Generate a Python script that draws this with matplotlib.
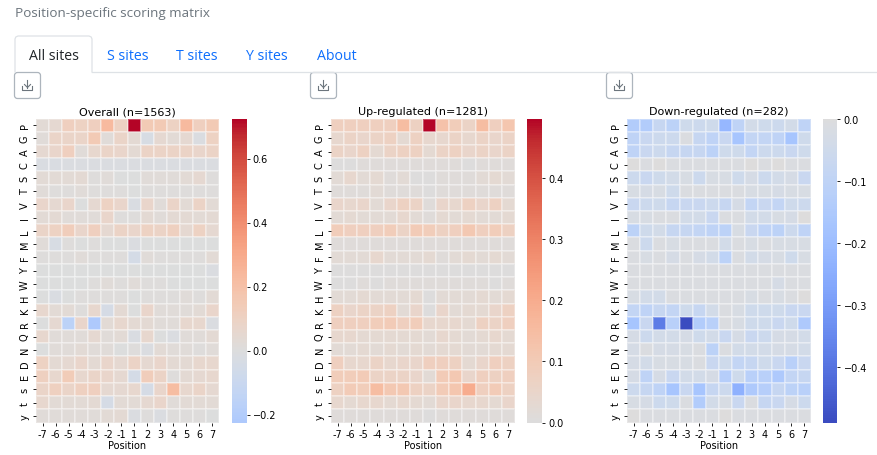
import matplotlib
matplotlib.use('Agg')
import matplotlib.pyplot as plt
import numpy as np
import seaborn as sns
from matplotlib.patches import FancyBboxPatch

residues = ['P', 'G', 'A', 'C', 'S', 'T', 'V', 'I', 'L', 'M', 'F', 'Y', 'W',
            'H', 'K', 'R', 'Q', 'N', 'D', 'E', 's', 't', 'y']
positions = ['-7', '-6', '-5', '-4', '-3', '-2', '-1', '1', '2', '3', '4', '5', '6', '7']

titles = ['Overall (n=1563)', 'Up-regulated (n=1281)', 'Down-regulated (n=282)']
tabs = ['All sites', 'S sites', 'T sites', 'Y sites', 'About']

overall = [
    [0.03, 0.05, 0.12, 0.10, 0.12, 0.23, 0.10, 0.725, 0.15, 0.15, 0.10, 0.23, 0.12, 0.15],
    [0.02, 0.08, 0.08, 0.08, 0.15, 0.02, 0.08, 0.04, -0.03, 0.05, 0.03, 0.05, -0.01, 0.10],
    [0.05, 0.07, 0.12, 0.02, 0.06, 0.08, 0.07, 0.04, 0.09, 0.09, 0.09, 0.09, 0.07, 0.09],
    [-0.02, -0.02, -0.01, -0.01, -0.01, -0.01, -0.01, -0.01, -0.01, -0.01, -0.01, -0.01, -0.01, -0.01],
    [0.03, 0.03, 0.03, 0.04, 0.01, 0.02, 0.00, 0.00, 0.02, 0.02, 0.02, 0.03, 0.05, 0.01],
    [0.02, 0.01, 0.01, 0.02, 0.01, 0.01, 0.01, 0.00, 0.01, 0.01, 0.01, 0.01, 0.01, 0.01],
    [0.07, 0.05, 0.07, 0.00, 0.05, 0.10, 0.07, -0.02, 0.07, 0.02, 0.08, 0.03, 0.09, 0.03],
    [0.03, 0.04, 0.02, 0.02, 0.02, 0.07, 0.01, 0.01, 0.04, 0.02, 0.04, 0.04, 0.03, 0.04],
    [0.08, 0.10, 0.13, 0.07, 0.12, 0.05, 0.09, 0.07, 0.10, 0.09, 0.11, 0.05, 0.10, 0.05],
    [0.02, -0.03, 0.01, 0.00, 0.01, 0.00, 0.00, -0.01, 0.00, 0.00, 0.00, 0.00, 0.00, 0.00],
    [0.01, 0.01, 0.01, 0.02, 0.01, 0.01, 0.01, -0.05, 0.02, 0.01, 0.01, 0.01, 0.01, 0.03],
    [0.00, 0.00, 0.00, 0.00, 0.00, 0.00, 0.00, 0.00, 0.00, 0.00, 0.00, 0.00, 0.00, -0.01],
    [0.00, 0.00, 0.00, 0.00, 0.01, 0.02, 0.01, 0.02, 0.01, 0.01, 0.00, 0.00, 0.00, 0.00],
    [0.00, -0.02, 0.00, 0.01, 0.01, 0.01, 0.01, 0.00, 0.01, 0.01, 0.01, 0.02, 0.01, 0.03],
    [0.06, 0.03, 0.03, 0.01, 0.06, -0.04, 0.04, 0.00, 0.07, 0.02, 0.02, 0.02, 0.03, 0.07],
    [0.00, 0.05, -0.16, 0.07, -0.225, 0.03, 0.06, 0.04, 0.04, 0.02, 0.02, 0.06, 0.06, -0.01],
    [0.06, 0.02, 0.02, 0.02, 0.05, 0.02, 0.03, -0.02, 0.06, 0.00, -0.01, 0.02, 0.02, 0.04],
    [0.00, 0.02, 0.02, 0.03, 0.02, 0.02, 0.00, 0.01, -0.01, 0.03, 0.02, 0.02, 0.01, 0.02],
    [0.10, 0.04, 0.05, 0.07, 0.04, 0.07, 0.05, 0.09, 0.05, 0.07, 0.04, 0.04, 0.06, 0.06],
    [0.11, 0.06, 0.14, 0.06, 0.08, 0.07, 0.05, -0.05, 0.13, 0.09, 0.01, 0.04, 0.05, 0.06],
    [0.08, 0.11, 0.08, 0.11, 0.12, 0.05, 0.05, 0.06, -0.04, 0.07, 0.22, 0.06, 0.08, 0.05],
    [0.06, 0.03, 0.03, 0.03, 0.04, -0.04, 0.03, 0.03, 0.05, 0.07, 0.02, 0.03, 0.03, 0.03],
    [0.02, 0.02, 0.02, 0.02, 0.02, 0.03, 0.04, -0.01, 0.01, -0.01, 0.01, 0.01, 0.01, 0.00],
]

up = [
    [0.08, 0.08, 0.08, 0.08, 0.08, 0.15, 0.07, 0.497, 0.13, 0.09, 0.06, 0.15, 0.08, 0.12],
    [0.04, 0.06, 0.05, 0.06, 0.07, 0.03, 0.07, 0.04, 0.04, 0.06, 0.04, 0.06, 0.05, 0.06],
    [0.06, 0.05, 0.07, 0.03, 0.06, 0.07, 0.07, 0.03, 0.06, 0.07, 0.05, 0.06, 0.05, 0.06],
    [0.00, 0.00, 0.01, 0.01, 0.01, 0.01, 0.01, 0.01, 0.01, 0.01, 0.00, 0.01, 0.01, 0.01],
    [0.02, 0.04, 0.02, 0.03, 0.01, 0.02, 0.00, 0.00, 0.01, 0.01, 0.01, 0.02, 0.03, 0.02],
    [0.01, 0.01, 0.01, 0.02, 0.01, 0.01, 0.01, 0.00, 0.01, 0.01, 0.01, 0.01, 0.01, 0.01],
    [0.05, 0.04, 0.05, 0.02, 0.05, 0.07, 0.06, 0.01, 0.05, 0.04, 0.07, 0.05, 0.07, 0.03],
    [0.02, 0.03, 0.02, 0.02, 0.02, 0.04, 0.02, 0.01, 0.03, 0.02, 0.03, 0.02, 0.02, 0.03],
    [0.09, 0.08, 0.08, 0.08, 0.09, 0.06, 0.10, 0.09, 0.07, 0.08, 0.11, 0.08, 0.09, 0.07],
    [0.01, 0.01, 0.01, 0.01, 0.01, 0.01, 0.01, 0.01, 0.01, 0.01, 0.01, 0.01, 0.01, 0.01],
    [0.02, 0.02, 0.02, 0.04, 0.02, 0.02, 0.02, 0.03, 0.01, 0.02, 0.03, 0.02, 0.03, 0.02],
    [0.00, 0.00, 0.00, 0.00, 0.00, 0.00, 0.00, 0.00, 0.00, 0.00, 0.00, 0.00, 0.00, 0.00],
    [0.00, 0.00, 0.01, 0.00, 0.01, 0.01, 0.01, 0.01, 0.01, 0.01, 0.01, 0.01, 0.00, 0.01],
    [0.02, 0.02, 0.03, 0.02, 0.02, 0.02, 0.03, 0.00, 0.02, 0.02, 0.02, 0.03, 0.02, 0.03],
    [0.07, 0.05, 0.06, 0.06, 0.07, 0.02, 0.05, 0.00, 0.05, 0.02, 0.03, 0.03, 0.05, 0.07],
    [0.08, 0.08, 0.08, 0.09, 0.10, 0.08, 0.09, 0.04, 0.04, 0.04, 0.03, 0.07, 0.06, 0.08],
    [0.04, 0.04, 0.03, 0.03, 0.03, 0.03, 0.03, 0.02, 0.04, 0.03, 0.02, 0.03, 0.04, 0.03],
    [0.02, 0.02, 0.03, 0.02, 0.03, 0.02, 0.03, 0.02, 0.03, 0.03, 0.02, 0.02, 0.03, 0.03],
    [0.08, 0.04, 0.04, 0.06, 0.04, 0.05, 0.05, 0.08, 0.08, 0.07, 0.03, 0.05, 0.08, 0.07],
    [0.09, 0.09, 0.10, 0.06, 0.06, 0.06, 0.05, 0.02, 0.10, 0.11, 0.05, 0.08, 0.07, 0.08],
    [0.07, 0.10, 0.09, 0.15, 0.11, 0.11, 0.07, 0.06, 0.10, 0.12, 0.20, 0.08, 0.10, 0.07],
    [0.04, 0.03, 0.04, 0.04, 0.03, 0.04, 0.03, 0.02, 0.05, 0.05, 0.04, 0.04, 0.03, 0.05],
    [0.01, 0.01, 0.01, 0.01, 0.01, 0.01, 0.01, 0.00, 0.01, 0.01, 0.01, 0.01, 0.01, 0.01],
]

down = [
    [-0.14, -0.14, -0.08, -0.11, -0.05, -0.06, -0.05, -0.22, -0.10, -0.04, -0.05, -0.06, -0.04, -0.10],
    [-0.10, -0.07, -0.06, -0.06, -0.01, -0.08, -0.10, -0.07, -0.17, -0.09, -0.09, -0.10, -0.17, -0.05],
    [-0.10, -0.07, -0.06, -0.08, -0.08, -0.08, -0.11, -0.05, -0.05, -0.09, -0.06, -0.06, -0.07, -0.05],
    [0.00, -0.01, 0.00, -0.01, -0.01, -0.01, -0.01, -0.01, -0.01, 0.00, -0.01, 0.00, -0.01, -0.01],
    [-0.06, -0.07, -0.05, -0.04, -0.02, -0.06, -0.02, -0.02, -0.05, -0.03, -0.06, -0.04, -0.03, -0.07],
    [-0.02, -0.03, -0.02, -0.05, -0.01, -0.01, -0.01, -0.01, -0.01, -0.02, -0.02, -0.03, -0.02, -0.02],
    [-0.07, -0.06, -0.05, -0.08, -0.07, -0.07, -0.06, -0.08, -0.03, -0.09, -0.07, -0.09, -0.05, -0.06],
    [-0.02, -0.02, -0.01, -0.01, -0.04, -0.04, -0.07, -0.01, -0.01, -0.04, -0.04, -0.02, -0.03, 0.00],
    [-0.11, -0.05, -0.04, -0.08, -0.08, -0.09, -0.10, -0.11, -0.02, -0.07, -0.10, -0.11, -0.06, -0.10],
    [-0.01, -0.06, -0.01, -0.02, -0.01, -0.01, -0.01, -0.04, -0.01, -0.02, -0.01, -0.02, -0.02, -0.02],
    [-0.01, -0.02, -0.01, -0.03, -0.01, -0.03, -0.04, -0.11, -0.01, -0.04, -0.03, -0.02, -0.05, -0.02],
    [-0.01, -0.01, -0.01, -0.01, -0.01, -0.01, -0.01, -0.01, -0.01, -0.01, -0.01, -0.01, -0.01, -0.01],
    [-0.01, -0.01, -0.01, -0.01, -0.01, -0.01, -0.01, -0.01, -0.01, -0.01, -0.01, -0.03, -0.01, -0.01],
    [-0.02, -0.04, -0.04, -0.01, -0.01, -0.01, -0.01, -0.01, -0.01, -0.02, -0.01, -0.02, -0.01, 0.00],
    [-0.09, -0.10, -0.08, -0.09, -0.05, -0.08, -0.04, -0.01, -0.02, -0.05, -0.05, -0.05, -0.07, -0.07],
    [-0.17, -0.07, -0.38, -0.12, -0.49, -0.14, -0.12, -0.01, -0.02, -0.05, -0.05, -0.07, -0.05, -0.15],
    [-0.03, -0.06, -0.04, -0.04, -0.03, -0.05, -0.04, -0.07, -0.03, -0.07, -0.06, -0.03, -0.03, -0.04],
    [-0.03, -0.01, -0.03, -0.03, -0.02, -0.01, -0.11, -0.01, -0.04, -0.04, -0.04, -0.03, -0.03, -0.04],
    [-0.03, -0.04, -0.02, -0.02, -0.02, -0.01, -0.07, -0.05, -0.09, -0.08, -0.05, -0.07, -0.12, -0.07],
    [-0.03, -0.10, -0.03, -0.07, -0.04, -0.04, -0.03, -0.13, -0.05, -0.12, -0.12, -0.15, -0.09, -0.08],
    [-0.06, -0.08, -0.10, -0.17, -0.07, -0.17, -0.08, -0.06, -0.24, -0.15, -0.13, -0.08, -0.11, -0.12],
    [-0.02, -0.03, -0.06, -0.05, -0.01, -0.14, -0.04, -0.02, -0.07, -0.01, -0.08, -0.07, -0.03, -0.06],
    [0.00, -0.01, -0.01, -0.01, -0.01, -0.01, -0.01, 0.00, -0.01, -0.01, -0.01, -0.01, -0.01, -0.01],
]

cbar_ticks = [
    [-0.2, 0.0, 0.2, 0.4, 0.6],
    [0.0, 0.1, 0.2, 0.3, 0.4],
    [-0.4, -0.3, -0.2, -0.1, 0.0],
]

W, H = 878, 456
fig = plt.figure(figsize=(W / 100, H / 100), dpi=100)
fig.patch.set_facecolor('white')


def px_axes(x0, y0, x1, y1):
    return fig.add_axes([x0 / W, 1 - y1 / H, (x1 - x0) / W, (y1 - y0) / H])


# page chrome: title, tabs, download buttons
bg = fig.add_axes([0, 0, 1, 1])
bg.set_xlim(0, W)
bg.set_ylim(H, 0)
bg.axis('off')
ui_font = 'Open Sans'
bg.text(15, 13, 'Position-specific scoring matrix', fontsize=9.7, color='#6c757d',
        family=ui_font, va='center', ha='left')
bg.plot([92, W], [73, 73], color='#dee2e6', lw=0.9)
bg.plot([15, 15, 15.8, 18, 89, 91.2, 92, 92], [73, 40, 38, 37, 37, 38, 40, 73],
        color='#dee2e6', lw=0.9)
tab_x = [54, 128, 197, 267, 337]
for i, (tx, label) in enumerate(zip(tab_x, tabs)):
    bg.text(tx, 56, label, fontsize=10.2, family=ui_font, ha='center', va='center',
            color='#212529' if i == 0 else '#0d6efd')

for bx in [14.5, 310.5, 606.5]:
    bg.add_patch(FancyBboxPatch((bx, 73.5), 26, 26, boxstyle='round,pad=0,rounding_size=3',
                                fc='white', ec='#adb5bd', lw=0.9))
    cx = bx + 13
    bg.plot([cx, cx], [81, 88.5], color='#6c757d', lw=0.8)
    bg.plot([cx - 3, cx, cx + 3], [85.5, 88.5, 85.5], color='#6c757d', lw=0.8)
    bg.plot([cx - 5, cx - 5, cx + 5, cx + 5], [87, 91, 91, 87], color='#6c757d', lw=0.8)

# heatmaps
hm_boxes = [(36, 119.5, 219, 423.5), (331, 119.5, 515, 423.5), (627, 119.5, 811, 423.5)]
cb_boxes = [(232, 119.5, 246.5, 423.5), (527.5, 119.5, 542, 423.5), (823, 119.5, 837.5, 423.5)]
matrices = [overall, up, down]

for mat, title, ticks, hb, cbb in zip(matrices, titles, cbar_ticks, hm_boxes, cb_boxes):
    ax = px_axes(*hb)
    cax = px_axes(*cbb)
    sns.heatmap(np.array(mat), ax=ax, cbar_ax=cax, cmap='coolwarm', center=0,
                xticklabels=positions, yticklabels=residues,
                linewidths=0.3, linecolor=(1, 1, 1, 0.3),
                cbar_kws={'ticks': ticks})
    ax.set_title(title, fontsize=8, pad=3)
    ax.set_xlabel('Position', fontsize=7, labelpad=1)
    ax.tick_params(axis='both', labelsize=7, length=2.5, width=0.6, pad=2)
    ax.set_yticklabels(residues, rotation=90, va='center')
    ax.set_xticklabels(positions, rotation=0)
    cax.tick_params(labelsize=7, length=2.5, width=0.6, pad=2)

fig.savefig('out.png', dpi=100)
